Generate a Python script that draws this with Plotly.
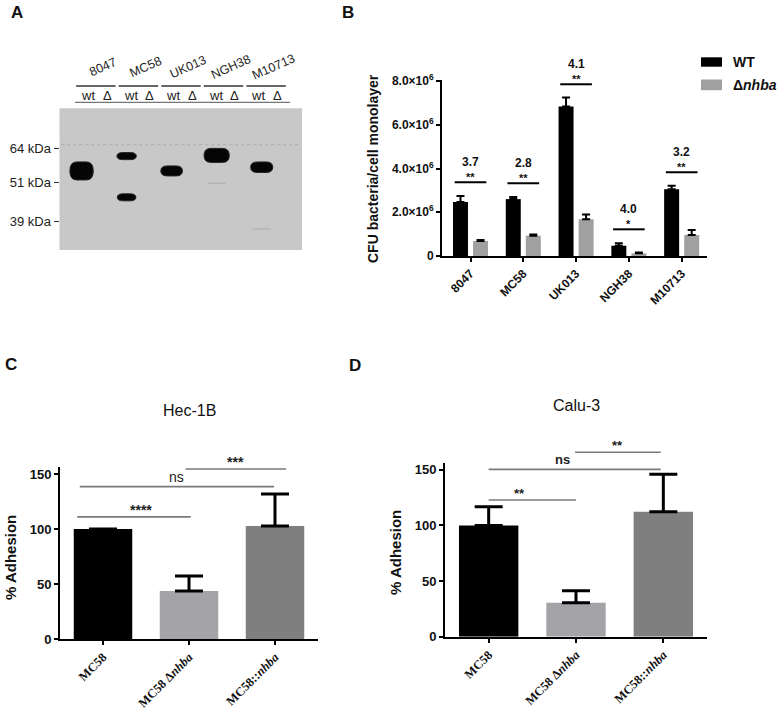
import numpy as np
import plotly.graph_objects as go

W, H = 781, 709
def PX(x): return x / W
def PY(y): return 1 - y / H

# ---------------- DATA ----------------
# Panel A : western blot
strains = ["8047", "MC58", "UK013", "NGH38", "M10713"]
kda_markers = [64, 51, 39]
band_strain = [0, 1, 1, 2, 3, 4]
band_lane = [0, 0, 0, 0, 0, 0]          # 0 = wt, 1 = delta
band_kda = [55.0, 60.8, 46.0, 55.0, 61.1, 56.4]
faint_strain = [3, 4]
faint_kda = [50.6, 37.1]
ladder_kda = 65.8

# Panel B : CFU per monolayer
wt_mean = [2.47e6, 2.60e6, 6.83e6, 0.47e6, 3.05e6]
wt_err = [0.27e6, 0.10e6, 0.41e6, 0.11e6, 0.16e6]
dl_mean = [0.69e6, 0.93e6, 1.68e6, 0.12e6, 0.96e6]
dl_err = [0.04e6, 0.05e6, 0.22e6, 0.04e6, 0.23e6]
fold_change = ["3.7", "2.8", "4.1", "4.0", "3.2"]
b_stars = ["**", "**", "**", "*", "**"]
b_sig_y = [3.37e6, 3.32e6, 7.85e6, 1.22e6, 3.83e6]
b_ticks = [0, 2e6, 4e6, 6e6, 8e6]
b_ticktext = ["0", "2.0×10<sup>6</sup>", "4.0×10<sup>6</sup>", "6.0×10<sup>6</sup>", "8.0×10<sup>6</sup>"]

# Panels C / D : % adhesion
groups = ["MC58", "MC58 Δ<i>nhba</i>", "MC58::<i>nhba</i>"]
hec_mean = [100, 43.6, 102.7]
hec_err = [0, 13.7, 29.1]
calu_mean = [100, 30.5, 112.3]
calu_err = [16.8, 10.8, 33.6]
hec_sig_label = ["****", "ns", "***"]
hec_sig_y = [111, 138.5, 154.5]
calu_sig_label = ["**", "ns", "**"]
calu_sig_y = [122.8, 150.4, 165.7]
adh_ticks = [0, 50, 100, 150]

# ---------------- STYLE ----------------
band_halfwidth = [0.52, 0.43, 0.41, 0.48, 0.56, 0.49]
band_thick_px = [18, 7, 7, 10, 14, 10.5]
hec_sig_x = [(-0.30, 1.02), (-0.27, 1.99), (0.96, 2.13)]
hec_txt_x = [0.44, 0.86, 1.54]
calu_sig_x = [(0.0, 1.0), (0.0, 1.97), (0.99, 1.97)]
calu_txt_x = [0.35, 0.85, 1.48]
bar_colors = ["#000000", "#a4a4a8", "#7f7f7f"]
SANS = "Liberation Sans, Arial, sans-serif"
SERIF = "Liberation Serif, Times New Roman, serif"

P = {
    "A": dict(xd=(PX(59.5), PX(302)), yd=(PY(250), PY(108.3)), xr=(-0.98, 9.79), yr=(1.508, 1.9244)),
    "B": dict(xd=(PX(442), PX(707)), yd=(PY(256), PY(79.9)), xr=(-0.54, 4.48), yr=(0, 8.05e6)),
    "C": dict(xd=(PX(60), PX(318)), yd=(PY(639), PY(467.4)), xr=(-0.5, 2.5), yr=(0, 156)),
    "D": dict(xd=(PX(445), PX(707)), yd=(PY(636.7), PY(463.1)), xr=(-0.5, 2.5), yr=(0, 156)),
}
def cx(p, v):
    d, r = P[p]["xd"], P[p]["xr"]
    return d[0] + (v - r[0]) / (r[1] - r[0]) * (d[1] - d[0])
def cy(p, v):
    d, r = P[p]["yd"], P[p]["yr"]
    return d[0] + (v - r[0]) / (r[1] - r[0]) * (d[1] - d[0])

fig = go.Figure()
shapes, annos = [], []
def note(**kw):
    kw.setdefault("showarrow", False)
    kw.setdefault("xanchor", "center")
    kw.setdefault("yanchor", "middle")
    kw.setdefault("xref", "paper")
    kw.setdefault("yref", "paper")
    annos.append(kw)

# ---------------- Panel A ----------------
ypx_per_unit = (250 - 108.3) / (P["A"]["yr"][1] - P["A"]["yr"][0])
shapes.append(dict(type="rect", xref="x domain", yref="y domain", x0=0, x1=1, y0=0, y1=1,
                   fillcolor="#c8c8c8", line=dict(width=0), layer="below"))
for s, ln, k, hw, th in zip(band_strain, band_lane, band_kda, band_halfwidth, band_thick_px):
    c = 2 * s + ln
    ym = np.log10(k)
    t = th / 2 / ypx_per_unit
    xl, xr = c - hw, c + hw
    rx = min(0.3, hw * 0.6)
    path = (f"M {xl+rx},{ym+t} L {xr-rx},{ym+t} Q {xr},{ym+t} {xr},{ym} "
            f"Q {xr},{ym-t} {xr-rx},{ym-t} L {xl+rx},{ym-t} Q {xl},{ym-t} {xl},{ym} "
            f"Q {xl},{ym+t} {xl+rx},{ym+t} Z")
    shapes.append(dict(type="path", xref="x", yref="y", path=path, fillcolor="#050505",
                       line=dict(color="#222222", width=1)))
for s, k in zip(faint_strain, faint_kda):
    fig.add_trace(go.Scatter(x=[2 * s - 0.4, 2 * s + 0.4], y=[np.log10(k)] * 2, mode="lines",
                             line=dict(color="#b4b4b4", width=1.5), xaxis="x", yaxis="y",
                             showlegend=False, hoverinfo="skip"))
fig.add_trace(go.Scatter(x=[-0.9, 9.7], y=[np.log10(ladder_kda)] * 2, mode="lines",
                         line=dict(color="#b2b2b2", width=1.5, dash="dot"), xaxis="x", yaxis="y",
                         showlegend=False, hoverinfo="skip"))

hdr_pitch, hdr_off, hdr_delta = 1.89, 0.29, 0.85
for i, name in enumerate(strains):
    hw_ = hdr_off + hdr_pitch * i
    shapes.append(dict(type="line", xref="paper", yref="paper",
                       x0=cx("A", hw_ - 0.53), x1=cx("A", hw_ + 1.22), y0=PY(86), y1=PY(86),
                       line=dict(color="#333333", width=1.3)))
    note(x=cx("A", hw_), y=PY(95), text="wt", font=dict(family=SANS, size=13, color="#222222"))
    note(x=cx("A", hw_ + hdr_delta), y=PY(95), text="Δ", font=dict(family=SANS, size=13, color="#222222"))
    note(x=cx("A", hw_ + 0.67), y=PY(67), text=name, textangle=-24,
         font=dict(family=SANS, size=12.5, color="#222222"))
shapes.append(dict(type="line", xref="paper", yref="paper", x0=PX(75), x1=PX(290), y0=PY(102.3),
                   y1=PY(102.3), line=dict(color="#555555", width=1)))

# ---------------- Panel B ----------------
xb = list(range(len(strains)))
fig.add_trace(go.Bar(x=xb, y=wt_mean, width=0.284, offset=-0.332, marker=dict(color="#000000", line=dict(width=0)),
                     error_y=dict(type="data", symmetric=False, array=wt_err, arrayminus=[0] * 5,
                                  thickness=2, width=4, color="#000000"),
                     xaxis="x2", yaxis="y2", showlegend=False, name="WT"))
fig.add_trace(go.Bar(x=xb, y=dl_mean, width=0.284, offset=0.048, marker=dict(color="#a0a0a0", line=dict(width=0)),
                     error_y=dict(type="data", symmetric=False, array=dl_err, arrayminus=[0] * 5,
                                  thickness=2, width=4, color="#000000"),
                     xaxis="x2", yaxis="y2", showlegend=False, name="Δnhba"))
for i in xb:
    yl = cy("B", b_sig_y[i])
    shapes.append(dict(type="line", xref="paper", yref="paper", x0=cx("B", i - 0.3), x1=cx("B", i + 0.3),
                       y0=yl, y1=yl, line=dict(color="#000000", width=2)))
    note(x=cx("B", i), y=yl, text=b_stars[i], yanchor="bottom", yshift=-3,
         font=dict(family=SANS, size=11, color="#111111", weight="bold"))
    note(x=cx("B", i), y=yl, text=fold_change[i], yanchor="bottom", yshift=11,
         font=dict(family=SANS, size=12, color="#111111", weight="bold"))
# legend
for (y0, y1, col, lab) in [(57.3, 66.7, "#000000", "<b>WT</b>"), (79.5, 90.2, "#a0a0a0", "<b>Δ<i>nhba</i></b>")]:
    shapes.append(dict(type="rect", xref="paper", yref="paper", x0=PX(701), x1=PX(722), y0=PY(y1), y1=PY(y0),
                       fillcolor=col, line=dict(width=0)))
    note(x=PX(731), y=PY((y0 + y1) / 2), text=lab, xanchor="left",
         font=dict(family=SANS, size=14, color="#111111"))
note(x=PX(373), y=PY(169), text="<b>CFU bacteria/cell monolayer</b>", textangle=-90,
     font=dict(family=SANS, size=14, color="#111111"))

# ---------------- Panels C, D ----------------
def adhesion(panel, xa, ya, mean, err, sig_lab, sig_y, sig_x, txt_x, title, star_size, ns_bold):
    fig.add_trace(go.Bar(x=[0, 1, 2], y=mean, width=0.68, offset=-0.34,
                         marker=dict(color=bar_colors, line=dict(width=0)),
                         error_y=dict(type="data", symmetric=False, array=err, arrayminus=[0] * 3,
                                      thickness=3, width=14, color="#000000"),
                         xaxis=xa, yaxis=ya, showlegend=False))
    for lab, yv, (xa0, xa1), tx in zip(sig_lab, sig_y, sig_x, txt_x):
        yl = cy(panel, yv)
        shapes.append(dict(type="line", xref="paper", yref="paper", x0=cx(panel, xa0), x1=cx(panel, xa1),
                           y0=yl, y1=yl, line=dict(color="#7a7a7a", width=1.6)))
        is_ns = lab == "ns"
        note(x=cx(panel, tx), y=yl, text=lab, yanchor="bottom", yshift=0 if is_ns else -3,
             font=dict(family=SANS, size=star_size, color="#222222",
                       weight="bold" if (ns_bold or not is_ns) else "normal"))
    xm = (P[panel]["xd"][0] + P[panel]["xd"][1]) / 2
    note(x=xm, y=title[1], text=title[0], font=dict(family=SANS, size=16, color="#111111"))

adhesion("C", "x3", "y3", hec_mean, hec_err, hec_sig_label, hec_sig_y, hec_sig_x, hec_txt_x,
         ("Hec-1B", PY(410)), 14, False)
adhesion("D", "x4", "y4", calu_mean, calu_err, calu_sig_label, calu_sig_y, calu_sig_x, calu_txt_x,
         ("Calu-3", PY(405)), 13, True)
note(x=PX(10), y=PY(558), text="<b>% Adhesion</b>", textangle=-90,
     font=dict(family=SANS, size=15, color="#111111"))
note(x=PX(395), y=PY(552), text="<b>% Adhesion</b>", textangle=-90,
     font=dict(family=SANS, size=15, color="#111111"))

# panel letters
for lab, x, y in [("A", 17, 13), ("B", 348, 13), ("C", 11, 364), ("D", 355, 365)]:
    note(x=PX(x), y=PY(y), text=f"<b>{lab}</b>", font=dict(family=SANS, size=17, color="#111111"))

# ---------------- AXES ----------------
def value_axis(p, anchor, tickvals, ticktext=None, size=13):
    d = dict(domain=list(P[p]["yd"]), range=list(P[p]["yr"]), anchor=anchor, showline=True, linewidth=2,
             linecolor="#000000", ticks="outside", ticklen=4, tickwidth=2, tickcolor="#000000",
             showgrid=False, zeroline=False, tickvals=tickvals,
             tickfont=dict(family=SANS, size=size, color="#111111", weight="bold"))
    if ticktext is not None:
        d["ticktext"] = ticktext
    return d

def cat_axis(p, anchor, tickvals, ticktext, family, size, angle=-45):
    return dict(domain=list(P[p]["xd"]), range=list(P[p]["xr"]), anchor=anchor, showline=True, linewidth=2,
                linecolor="#000000", ticks="outside", ticklen=4, tickwidth=2, tickcolor="#000000",
                showgrid=False, zeroline=False, tickvals=tickvals, ticktext=ticktext, tickangle=angle,
                tickfont=dict(family=family, size=size, color="#111111", weight="bold"))

fig.update_layout(
    width=W, height=H, margin=dict(l=0, r=0, t=0, b=0, autoexpand=False),
    paper_bgcolor="white", plot_bgcolor="white", barmode="overlay", showlegend=False,
    xaxis=dict(domain=list(P["A"]["xd"]), range=list(P["A"]["xr"]), anchor="y", visible=False),
    yaxis=dict(domain=list(P["A"]["yd"]), range=list(P["A"]["yr"]), anchor="x",
               tickvals=list(np.log10(kda_markers)), ticktext=[f"{k} kDa" for k in kda_markers],
               ticks="outside", ticklen=5, tickwidth=1, tickcolor="#333333", showline=False,
               showgrid=False, zeroline=False, tickfont=dict(family=SANS, size=13, color="#222222")),
    xaxis2=cat_axis("B", "y2", xb, strains, SANS, 12),
    yaxis2=value_axis("B", "x2", b_ticks, b_ticktext, 12),
    xaxis3=cat_axis("C", "y3", [0, 1, 2], groups, SERIF, 12.5, -45),
    yaxis3=value_axis("C", "x3", adh_ticks),
    xaxis4=cat_axis("D", "y4", [0, 1, 2], groups, SERIF, 12.5, -45),
    yaxis4=value_axis("D", "x4", adh_ticks),
    shapes=shapes, annotations=annos,
)
fig.write_html("out.html", config={"displayModeBar": False},
               post_script="document.body.style.margin='0px';")
